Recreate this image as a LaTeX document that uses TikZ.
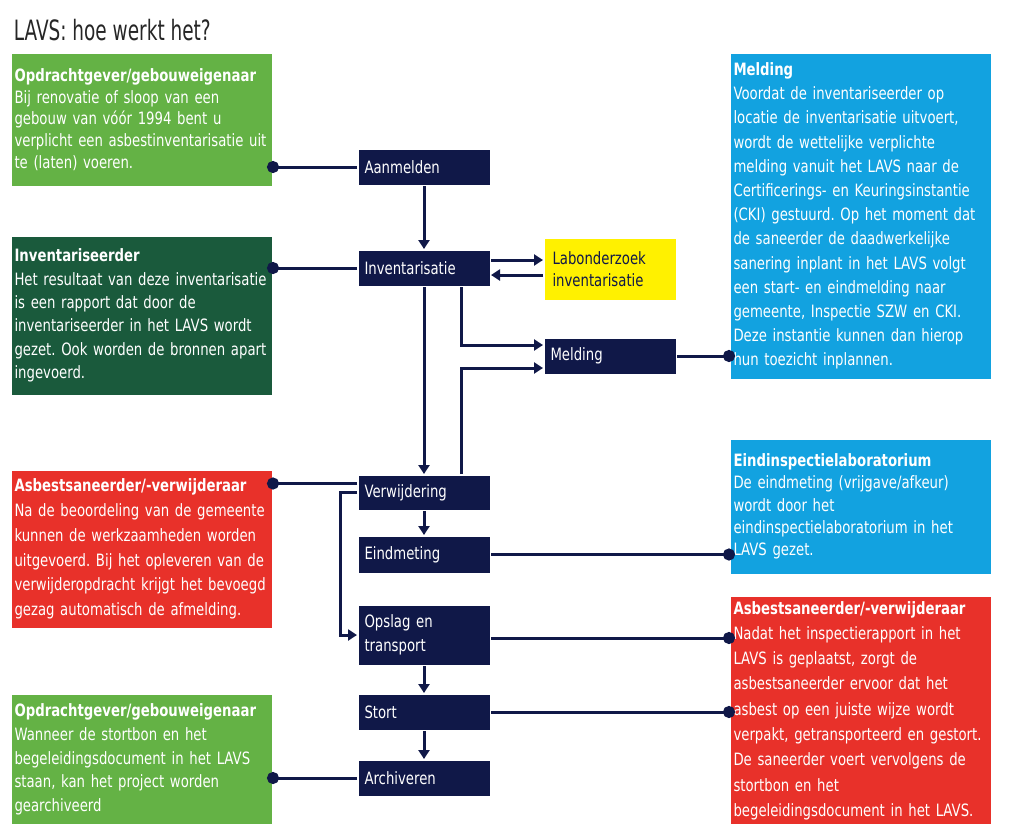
\documentclass[tikz,border=0pt]{standalone}
\usepackage{fontspec}
\setmainfont{DejaVu Sans}[FakeStretch=0.78]
\newfontfamily\titlefont{DejaVu Sans}[FakeStretch=0.66]
\usetikzlibrary{arrows.meta}
\definecolor{navy}{HTML}{101848}
\definecolor{lgreen}{HTML}{64B245}
\definecolor{dgreen}{HTML}{1A5A3C}
\definecolor{lavsred}{HTML}{E8312A}
\definecolor{lavsblue}{HTML}{12A2E0}
\definecolor{lavsyellow}{HTML}{FFF100}
\newcommand{\leadfont}[1]{\fontsize{17}{#1}\selectfont}
\frenchspacing
\tikzset{
  infobox/.style={fill=#1, text=white, anchor=north west, text width=254pt,
    inner xsep=3pt, inner ysep=0pt, align=left},
  stepbox/.style={fill=navy, text=white, anchor=north west, text width=119pt,
    inner xsep=6pt, inner ysep=0pt, minimum height=35pt, align=left,
    font=\leadfont{24}},
  dotlink/.style={draw=navy, line width=3pt, -{Circle[length=12pt]}, shorten >=-6pt},
}
\begin{document}
\begin{tikzpicture}[x=1pt,y=-1pt,line width=3pt,draw=navy,
  >={Triangle[length=9pt,width=11pt]}]
\useasboundingbox (0,0) rectangle (1013,823);
\node[anchor=west,text=black!85,font=\titlefont\fontsize{28}{30}\selectfont](title) at (9,30) {LAVS: hoe werkt het?};
%
\node[infobox=lgreen,minimum height=132pt,font=\leadfont{21.6}](opdr1) at (10,52) {\textbf{Opdrachtgever/gebouweigenaar}\\Bij renovatie of sloop van een\\gebouw van vóór 1994 bent u\\verplicht een asbestinventarisatie uit\\te (laten) voeren.};
\node[infobox=dgreen,minimum height=158pt,font=\leadfont{23.4}](invent) at (10,235) {\textbf{Inventariseerder}\\Het resultaat van deze inventarisatie\\is een rapport dat door de\\inventariseerder in het LAVS wordt\\gezet. Ook worden de bronnen apart\\ingevoerd.};
\node[infobox=lavsred,minimum height=157pt,font=\leadfont{24.8}](sanr1) at (10,469) {\textbf{Asbestsaneerder/-verwijderaar}\\Na de beoordeling van de gemeente\\kunnen de werkzaamheden worden\\uitgevoerd. Bij het opleveren van de\\verwijderopdracht krijgt het bevoegd\\gezag automatisch de afmelding.};
\node[infobox=lgreen,minimum height=130pt,font=\leadfont{23.75}](opdr2) at (10,693) {\textbf{Opdrachtgever/gebouweigenaar}\\Wanneer de stortbon en het\\begeleidingsdocument in het LAVS\\staan, kan het project worden\\gearchiveerd};
%
\node[infobox=lavsblue,minimum height=325pt,font=\leadfont{24.2}](minfo) at (729,52) {\textbf{Melding}\\Voordat de inventariseerder op\\locatie de inventarisatie uitvoert,\\wordt de wettelijke verplichte\\melding vanuit het LAVS naar de\\Certificerings- en Keuringsinstantie\\(CKI) gestuurd. Op het moment dat\\de saneerder de daadwerkelijke\\sanering inplant in het LAVS volgt\\een start- en eindmelding naar\\gemeente, Inspectie SZW en CKI.\\Deze instantie kunnen dan hierop\\hun toezicht inplannen.};
\node[infobox=lavsblue,minimum height=134pt,font=\leadfont{22.3}](einfo) at (729,438) {\textbf{Eindinspectielaboratorium}\\De eindmeting (vrijgave/afkeur)\\wordt door het\\eindinspectielaboratorium in het\\LAVS gezet.};
\node[infobox=lavsred,minimum height=228pt,font=\leadfont{25.3}](sanr2) at (729,595) {\textbf{Asbestsaneerder/-verwijderaar}\\Nadat het inspectierapport in het\\LAVS is geplaatst, zorgt de\\asbestsaneerder ervoor dat het\\asbest op een juiste wijze wordt\\verpakt, getransporteerd en gestort.\\De saneerder voert vervolgens de\\stortbon en het\\begeleidingsdocument in het LAVS.};
%
\node[stepbox](aanmelden) at (357,148) {Aanmelden};
\node[stepbox](inv) at (357,249) {Inventarisatie};
\node[stepbox,minimum height=34pt](verw) at (357,474) {Verwijdering};
\node[stepbox,minimum height=36pt](eind) at (357,535) {Eindmeting};
\node[stepbox,minimum height=59pt](opslag) at (357,604) {Opslag en\\transport};
\node[stepbox](stort) at (357,693) {Stort};
\node[stepbox](archief) at (357,759) {Archiveren};
\node[stepbox](melding) at (543,337) {Melding};
\node[stepbox,fill=lavsyellow,text=navy,inner xsep=8pt,text width=115pt,minimum height=61pt,font=\leadfont{22}](lab) at (543,237) {Labonderzoek\\inventarisatie};
%
\draw[->](aanmelden) -- (inv);
\draw[->](inv) -- (verw);
\draw[->](verw) -- (eind);
\draw[->](opslag) -- (stort);
\draw[->](stort) -- (archief);
%
\draw[->]([yshift=8pt]inv.east) -- ([yshift=8pt]inv.east -| lab.west);
\draw[->]([yshift=-7pt]inv.east -| lab.west) -- ([yshift=-7pt]inv.east);
\draw[->]([xshift=37pt]inv.south) |- ([yshift=11pt]melding.west);
\draw[->]([xshift=37pt]verw.north) |- ([yshift=-12pt]melding.west);
\draw[->](verw.west) -- ++(-17,0) |- (opslag.west);
%
\draw[dotlink](aanmelden.west) -- (aanmelden.west -| opdr1.east);
\draw[dotlink](inv.west) -- (inv.west -| invent.east);
\draw[dotlink]([yshift=9pt]verw.west) -- ([yshift=9pt]verw.west -| sanr1.east);
\draw[dotlink](archief.west) -- (archief.west -| opdr2.east);
\draw[dotlink](melding.east) -- (melding.east -| minfo.west);
\draw[dotlink](eind.east) -- (eind.east -| einfo.west);
\draw[dotlink]([yshift=-3pt]opslag.east) -- ([yshift=-3pt]opslag.east -| sanr2.west);
\draw[dotlink](stort.east) -- (stort.east -| sanr2.west);
\end{tikzpicture}
\end{document}
